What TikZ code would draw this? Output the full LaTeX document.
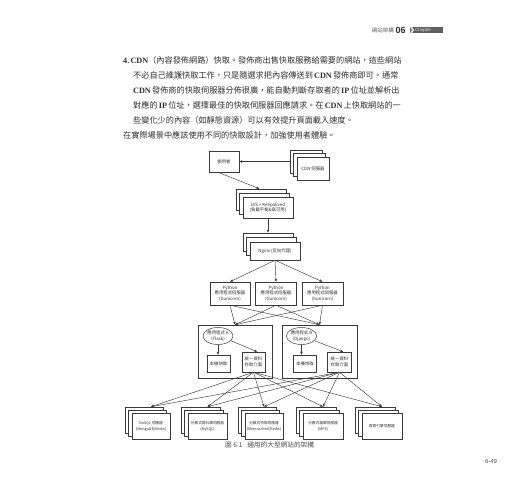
\documentclass[tikz,border=0pt]{standalone}
\usepackage{fontspec}
\setmainfont{Liberation Serif}
\newfontfamily\cjk{Noto Sans CJK TC}
\newfontfamily\lsans{Liberation Sans}
\newfontfamily\lser{Liberation Serif}
\usetikzlibrary{arrows.meta,shapes.geometric,calc}
\XeTeXinterchartokenstate=1
\XeTeXinterchartoks 1 1 = {\hskip 0pt plus 0.8pt minus 0.4pt\relax}
\XeTeXinterchartoks 1 3 = {\hskip 0pt plus 0.8pt minus 0.4pt\relax}
\XeTeXinterchartoks 3 1 = {\hskip 0pt plus 0.8pt minus 0.4pt\relax}
\XeTeXinterchartoks 1 2 = {\hskip 0pt plus 0.8pt minus 0.4pt\relax}
\XeTeXinterchartoks 3 2 = {\hskip 0pt plus 0.8pt minus 0.4pt\relax}
\definecolor{ink}{HTML}{2E2E2E}
\definecolor{ln}{HTML}{3A3A3A}
\newcommand\latb[1]{{\lser\bfseries #1}}
\tikzset{
  box/.style={draw=ln,line width=0.5pt,fill=white,inner sep=0pt,align=center,
    font=\cjk\fontsize{4.4}{5.4}\selectfont,text=ink},
  smallbox/.style={box,font=\cjk\fontsize{3.7}{6}\selectfont},
  arr/.style={draw=ln,line width=0.45pt,-{Stealth[length=3.2pt,width=2.6pt]}},
  body/.style={anchor=west,inner sep=0pt,font=\cjk\fontsize{8.2}{10}\selectfont,text=ink},
}
% stack of three boxes: name, x, y, w, h, dx, dy, style, text
\newcommand\stk[9]{%
  \node[#8,minimum width=#4bp,minimum height=#5bp] (#1b2) at (#2-2*#6,#3-2*#7) {};
  \node[#8,minimum width=#4bp,minimum height=#5bp] (#1b1) at (#2-#6,#3-#7) {};
  \node[#8,minimum width=#4bp,minimum height=#5bp] (#1) at (#2,#3) {#9};}
\begin{document}
\begin{tikzpicture}[x=1bp,y=-1bp]
\useasboundingbox (0,0) rectangle (520,500);
% header
\node[anchor=east,inner sep=0pt,font=\cjk\fontsize{5.5}{6}\selectfont,text=ink!80] (hdr) at (394,30) {網站架構};
\node[anchor=west,inner sep=0pt,font=\lsans\bfseries\fontsize{9}{9}\selectfont,text=ink] (chapno) at (395.5,30) {06};
\fill[gray!75!black] (410,27) rectangle (443,33);
\fill[white!80!gray] (410,27) -- (412,27) -- (414,30) -- (412,33) -- (410,33) -- (412,30) -- cycle;
\node[anchor=west,inner sep=0pt,font=\lsans\fontsize{4.5}{5}\selectfont,text=white!85!black] (chapw) at (415,30) {Chapter};
% body text
\node[body] (l1) at (123,60) {\hbox to 272bp{\latb{4.}\ \latb{CDN}（內容發佈網路）快取。發佈商出售快取服務給需要的網站，這些網站}};
\node[body] (l2) at (133,75) {\hbox to 262bp{不必自己維護快取工作，只是隨選求把內容傳送到 \latb{CDN} 發佈商即可。通常}};
\node[body] (l3) at (133,90) {\hbox to 262bp{\latb{CDN} 發佈商的快取伺服器分佈很廣，能自動判斷存取者的 \latb{IP} 位址並解析出}};
\node[body] (l4) at (133,105) {\hbox to 262bp{對應的 \latb{IP} 位址，選擇最佳的快取伺服器回應請求。在 \latb{CDN} 上快取網站的一}};
\node[body] (l5) at (133,120) {些變化少的內容（如靜態資源）可以有效提升頁面載入速度。};
\node[body] (l6) at (123,135) {在實際場景中應該使用不同的快取設計，加強使用者體驗。};
% diagram: top
\node[box,minimum width=30bp,minimum height=21bp] (user) at (224,161.5) {使用者};
\stk{cdn}{313}{168.5}{32}{23}{3.5}{3.5}{box}{CDN 伺服器}
\stk{lvs}{268}{207.5}{50}{21}{3.5}{4}{box}{LVS + Keepalived\\(負載平衡\&高可用)}
\stk{ngx}{275}{251}{50}{18}{3.5}{4.5}{box}{Nginx (反向代理)}
\draw[arr] (cdnb2.west |- user.east) -- (user.east);
\draw[arr] ($(user.south west)!0.3!(user.south east)$) -- ($(lvsb2.north west)!0.47!(lvsb2.north east)$);
\draw[arr] (lvs.south) -- (lvs.south |- ngxb2.north);
% python servers
\node[box,minimum width=40bp,minimum height=23bp] (py1) at (230,293.5) {Python\\應用程式伺服器\\(Gunicorn)};
\node[box,minimum width=41bp,minimum height=23bp] (py2) at (276,293.5) {Python\\應用程式伺服器\\(Gunicorn)};
\node[box,minimum width=41bp,minimum height=23bp] (py3) at (322.5,293.5) {Python\\應用程式伺服器\\(Gunicorn)};
\foreach \p in {py1,py2,py3} \draw[arr] (ngx.south) -- (\p.north);
% containers
\node[box,minimum width=74bp,minimum height=53bp] (conA) at (235,351.5) {};
\node[box,minimum width=75bp,minimum height=53bp] (conB) at (319.5,351.5) {};
\foreach \p in {py1,py2,py3} {
  \draw[arr] (\p.south) -- (conA.north);
  \draw[arr] (\p.south) -- (conB.north);
}
\node[box,ellipse,minimum width=29bp,minimum height=17bp] (appA) at (218,336) {應用程式 A\\(Flask)};
\node[box,minimum width=23bp,minimum height=17bp] (cacheA) at (218.5,363.5) {本機快取};
\node[box,minimum width=23bp,minimum height=20bp] (uniA) at (253.5,362) {統一資料\\存取介面};
\node[box,ellipse,minimum width=29bp,minimum height=17bp] (appB) at (301.5,336) {應用程式 B\\(Django)};
\node[box,minimum width=23bp,minimum height=17bp] (cacheB) at (305,363.5) {本機快取};
\node[box,minimum width=24bp,minimum height=20bp] (uniB) at (339.5,362) {統一資料\\存取介面};
\draw[arr] (appA.south) -- (appA.south |- cacheA.north);
\draw[arr] (appA.-20) -- (uniA.70);
\draw[arr] (appB.south) -- (appB.south |- cacheB.north);
\draw[arr] (appB.-20) -- (uniB.70);
% bottom stacks
\stk{db1}{151}{426}{38}{26}{3.5}{3}{smallbox}{NoSQL 伺服器\\(MongoDB/Redis)}
\stk{db2}{207.5}{426}{39}{26}{3.5}{3}{smallbox}{分散式資料庫伺服器\\(MySQL)}
\stk{db3}{264}{426}{38}{26}{3.5}{3}{smallbox}{分散式快取伺服器\\(Memcached/Redis)}
\stk{db4}{323}{426}{40}{26}{3.5}{3}{smallbox}{分散式檔案伺服器\\(MFS)}
\stk{db5}{382}{426}{40}{26}{3.5}{3}{smallbox}{搜索引擎伺服器}
\foreach \d in {db1,db2,db3,db4,db5} {
  \draw[arr] (uniA.south) -- (\d.north |- \d b2.north);
  \draw[arr] (uniB.south) -- (\d.north |- \d b2.north);
}
% caption and page number
\node[anchor=west,inner sep=0pt,font=\cjk\fontsize{6.7}{7}\selectfont,text=ink!85] (cap) at (225,445) {圖 6.1\hspace{0.7em}通用的大型網站的架構};
\node[inner sep=0pt,font=\lsans\fontsize{6}{6}\selectfont,text=ink!85] (pg) at (491,461) {6-49};
\end{tikzpicture}
\end{document}
